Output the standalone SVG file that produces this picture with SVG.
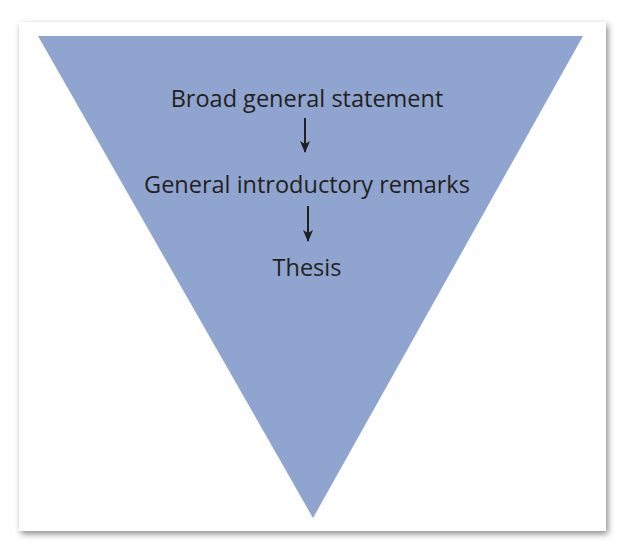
<svg xmlns="http://www.w3.org/2000/svg" width="624" height="551" viewBox="0 0 624 551">
<defs>
<filter id="sh" x="-5%" y="-5%" width="110%" height="110%"><feDropShadow dx="2" dy="3" stdDeviation="3" flood-color="#000" flood-opacity="0.45"/></filter>
<marker id="ah" markerWidth="12" markerHeight="12" refX="11" refY="6" orient="auto" markerUnits="userSpaceOnUse" viewBox="0 0 12 12"><path d="M0,1 L12,6 L0,11 L3,6 Z" fill="#231f20"/></marker>
<style>.t{font-family:"Open Sans","Liberation Sans",sans-serif;font-size:23.5px;fill:#231f20;text-anchor:middle}</style>
</defs>
<rect width="624" height="551" fill="#fff"/>
<rect x="19" y="22" width="587" height="509" fill="#fff" filter="url(#sh)"/>
<g id="funnel"><polygon points="38,36 583,36 313,518" fill="#8fa5cf"/></g>
<g id="n1"><text class="t" x="307" y="107">Broad general statement</text></g>
<g id="n2"><text class="t" x="307" y="193">General introductory remarks</text></g>
<g id="n3"><text class="t" x="307" y="276">Thesis</text></g>
<g id="connectors" stroke="#231f20" stroke-width="2">
<line x1="305" y1="118" x2="305" y2="152" marker-end="url(#ah)"/>
<line x1="308" y1="206" x2="308" y2="241" marker-end="url(#ah)"/>
</g>
</svg>
